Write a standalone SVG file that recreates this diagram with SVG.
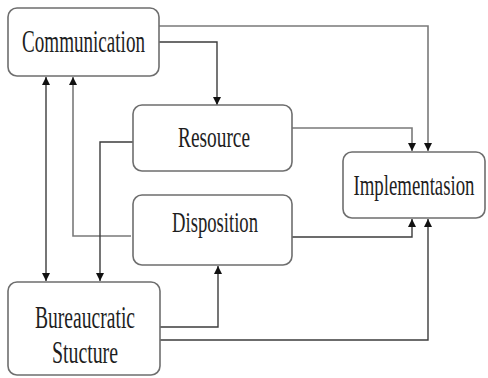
<svg xmlns="http://www.w3.org/2000/svg" width="488" height="378" viewBox="0 0 488 378">
<defs>
<marker id="ah" viewBox="0 0 10 10" refX="10" refY="5" markerWidth="8" markerHeight="10" markerUnits="userSpaceOnUse" orient="auto-start-reverse">
<path d="M0,0 L10,5 L0,10 z" fill="#111"/>
</marker>
<style>
.box{fill:#fff;stroke:#6e6e6e;stroke-width:1.6}
.lbl{font-family:"Liberation Serif","Times New Roman",serif;font-size:19px;fill:#1e1e1e;text-anchor:middle}
.c{fill:none;stroke:#3c3c3c;stroke-width:1.4}
.cg{fill:none;stroke:#7a7a7a;stroke-width:1.6}
</style>
</defs>
<rect width="488" height="378" fill="#fff"/>
<g id="connectors">
<path class="cg" d="M159,26 H428 V151" marker-end="url(#ah)"/>
<path class="c" d="M159,42 H217 V105" marker-end="url(#ah)"/>
<path class="cg" d="M292,128 H412 V151" marker-end="url(#ah)"/>
<path class="c" d="M292,237 H412 V219" marker-end="url(#ah)"/>
<path class="c" d="M160,340 H428 V219" marker-end="url(#ah)"/>
<path class="c" d="M160,327 H218 V266" marker-end="url(#ah)"/>
<path class="c" d="M46,77 V281" marker-start="url(#ah)" marker-end="url(#ah)"/>
<path class="cg" d="M131,236 H73 V77" marker-end="url(#ah)"/>
<path class="c" d="M133,142 H100 V281" marker-end="url(#ah)"/>
</g>
<g id="communication">
<rect class="box" x="8" y="8" width="151" height="68" rx="9"/>
<text class="lbl" transform="translate(83.5,52) scale(1,1.65)" x="0" y="0" textLength="123" lengthAdjust="spacingAndGlyphs">Communication</text>
</g>
<g id="resource">
<rect class="box" x="133" y="105" width="159" height="66" rx="9"/>
<text class="lbl" transform="translate(214,147) scale(1,1.6)" x="0" y="0" textLength="72" lengthAdjust="spacingAndGlyphs">Resource</text>
</g>
<g id="disposition">
<rect class="box" x="133" y="195" width="159" height="70" rx="9"/>
<text class="lbl" transform="translate(215,232) scale(1,1.6)" x="0" y="0" textLength="86" lengthAdjust="spacingAndGlyphs">Disposition</text>
</g>
<g id="implementasion">
<rect class="box" x="343" y="152" width="142" height="66" rx="9"/>
<text class="lbl" transform="translate(414,195) scale(1,1.6)" x="0" y="0" textLength="121" lengthAdjust="spacingAndGlyphs">Implementasion</text>
</g>
<g id="bureaucratic">
<rect class="box" x="8" y="282" width="152" height="93" rx="9"/>
<text class="lbl" transform="translate(85,328) scale(1,1.65)" x="0" y="0" textLength="100" lengthAdjust="spacingAndGlyphs">Bureaucratic</text>
<text class="lbl" transform="translate(85,363) scale(1,1.65)" x="0" y="0" textLength="66" lengthAdjust="spacingAndGlyphs">Stucture</text>
</g>
</svg>
